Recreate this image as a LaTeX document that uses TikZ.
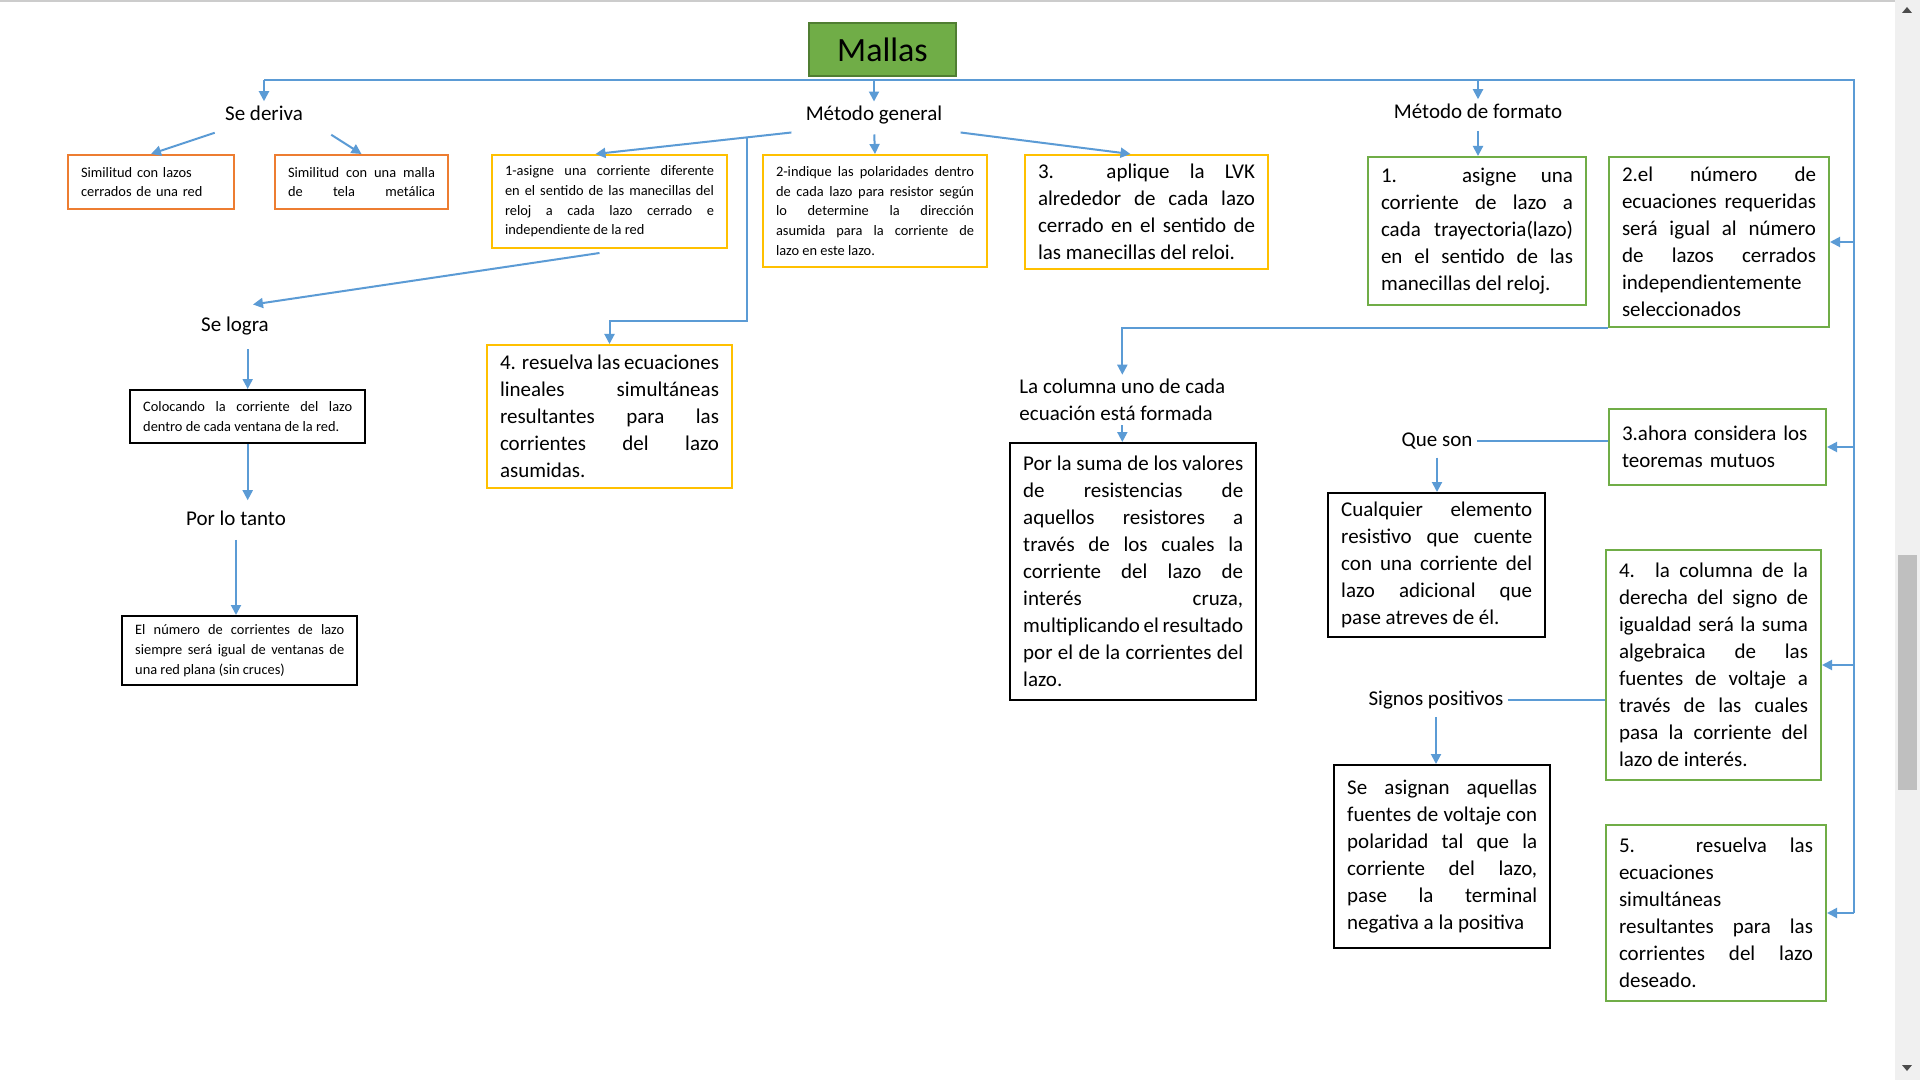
\documentclass[tikz,border=0pt]{standalone}
\usepackage{fontspec}
\setmainfont{Carlito}
\usetikzlibrary{arrows.meta,calc}

\definecolor{lineblue}{HTML}{5B9BD5}
\definecolor{boxorange}{HTML}{ED7D31}
\definecolor{boxgold}{HTML}{FFC000}
\definecolor{boxgreen}{HTML}{70AD47}
\definecolor{darkgreen}{HTML}{507E32}
\tolerance=10000
\hyphenpenalty=10000

\tikzset{
  box/.style={draw=#1, line width=1pt, anchor=north west, inner xsep=6.5pt, inner ysep=3pt, align=justify},
  smalltext/.style={font=\fontsize{7.2}{9.8}\selectfont},
  bodytext/.style={font=\fontsize{10.5}{13.5}\selectfont},
  lbl/.style={font=\fontsize{10.5}{13.5}\selectfont, inner sep=2pt},
  conn/.style={draw=lineblue, line width=1pt},
  arr/.style={conn, -{Triangle[length=5pt,width=5pt]}},
}

\begin{document}
\begin{tikzpicture}[x=0.5pt,y=-0.5pt]
\useasboundingbox (0,0) rectangle (1920,1080);
\fill[white] (0,0) rectangle (1920,1080);
% window frame
\draw[black!20, line width=1pt] (0,1) -- (1895,1);
\fill[black!6] (1895,0) rectangle (1920,1080);
\fill[black!25] (1898,555) rectangle (1917,790);
\fill[black!70] (1902,13) -- (1912,13) -- (1907,7) -- cycle;
\fill[black!70] (1902,1065) -- (1912,1065) -- (1907,1071) -- cycle;
%
\node[fill=boxgreen, draw=darkgreen, line width=1pt, minimum width=73.5pt, minimum height=26.5pt, font=\fontsize{17}{20}\selectfont] (mallas) at (882.5,49.5) {Mallas};
%
\node[lbl] (sederiva) at (264,113) {Se deriva};
\node[lbl] (metgen) at (874,115) {Método general};
\node[lbl] (metform) at (1478,111) {Método de formato};
\node[lbl] (selogra) at (235,326) {Se logra};
\node[lbl] (portanto) at (236,518) {Por lo tanto};
\node[lbl, anchor=west, align=left] (columna) at (1015,400) {La columna uno de cada\\ecuación está formada};
\node[lbl] (queson) at (1437,441) {Que son};
\node[lbl] (signos) at (1436,700) {Signos positivos};
%
\node[box=boxorange, smalltext, align=left, text width=70pt, minimum height=27pt] (a1) at (67,154) {Similitud con lazos cerrados de una red};
\node[box=boxorange, smalltext, text width=73.5pt, minimum height=27pt] (a2) at (274,154) {Similitud con una malla\linebreak de \hfill tela \hfill metálica};
%
\node[box=boxgold, smalltext, text width=104.5pt, minimum height=46.5pt] (y1) at (491,154) {1-asigne una corriente diferente\linebreak en el sentido de las manecillas del\linebreak reloj a cada lazo cerrado e\linebreak independiente de la red};
\node[box=boxgold, smalltext, text width=99pt, minimum height=56pt] (y2) at (762,154) {2-indique las polaridades dentro\linebreak de cada lazo para resistor según\linebreak lo determine la dirección\linebreak asumida para la corriente de\linebreak lazo en este lazo.};
\node[box=boxgold, bodytext, text width=108.5pt, minimum height=57pt] (y3) at (1024,154) {3. aplique la LVK alrededor de cada lazo cerrado en el sentido de las manecillas del reloi.};
\node[box=boxgold, bodytext, text width=109.5pt, minimum height=71.5pt] (y4) at (486,344) {4. resuelva las ecuaciones lineales simultáneas resultantes para las corrientes del lazo asumidas.};
%
\node[box=boxgreen, bodytext, text width=96pt, minimum height=74pt] (g1) at (1367,156) {1. asigne una corriente de lazo a cada trayectoria(lazo) en el sentido de las manecillas del reloj.};
\node[box=boxgreen, bodytext, text width=97pt, minimum height=85pt] (g2) at (1608,156) {2.el número de ecuaciones requeridas será igual al número de lazos cerrados independientemente seleccionados};
\node[box=boxgreen, bodytext, align=left, text width=95.5pt, minimum height=38pt] (g3) at (1608,408) {3.ahora considera los teoremas mutuos};
\node[box=boxgreen, bodytext, text width=94.5pt, minimum height=115pt] (g4) at (1605,549) {4. la columna de la\linebreak derecha del signo de\linebreak igualdad será la suma\linebreak algebraica de las\linebreak fuentes de voltaje a\linebreak través de las cuales\linebreak pasa la corriente del\linebreak lazo de interés.};
\node[box=boxgreen, bodytext, text width=97pt, minimum height=88pt] (g5) at (1605,824) {5. resuelva las\linebreak ecuaciones\newline simultáneas\newline resultantes para las\linebreak corrientes del lazo\linebreak deseado.};
%
\node[box=black, line width=1.2pt, smalltext, text width=104.5pt, minimum height=26.5pt] (b1) at (129,389) {Colocando la corriente del lazo dentro de cada ventana de la red.};
\node[box=black, line width=1.2pt, smalltext, text width=104.5pt, minimum height=34.5pt] (b2) at (121,615) {El número de corrientes de lazo siempre será igual de ventanas de una red plana (sin cruces)};
\node[box=black, line width=1.2pt, bodytext, text width=110pt, minimum height=128.5pt] (b3) at (1009,442) {Por la suma de los valores\linebreak de resistencias de\linebreak aquellos resistores a\linebreak través de los cuales la\linebreak corriente del lazo de\linebreak interés cruza,\linebreak multiplicando el resultado\linebreak por el de la corrientes del\linebreak lazo.};
\node[box=black, line width=1.2pt, bodytext, text width=95.5pt, minimum height=72pt] (b4) at (1327,492) {Cualquier elemento resistivo que cuente con una corriente del lazo adicional que pase atreves de él.};
\node[box=black, line width=1.2pt, bodytext, text width=95pt, minimum height=91.5pt] (b5) at (1333,764) {Se asignan aquellas\linebreak fuentes de voltaje con\linebreak polaridad tal que la\linebreak corriente del lazo,\linebreak pase la terminal\linebreak negativa a la positiva};
%
% main branches
\coordinate (topleft) at (264,80);
\coordinate (topright) at (1854,80);
\draw[conn] (topleft) -- (topright) -- (g5.east -| topright);
\draw[arr] (topleft) -- (sederiva.north);
\draw[arr] (metgen.north |- topleft) -- (metgen.north);
\draw[arr] (metform.north |- topleft) -- (metform.north);
\foreach \n in {g2,g3,g4,g5}
  \draw[arr] (\n.east -| topright) -- (\n.east);
%
\draw[arr] ([xshift=-3pt,yshift=-4pt]sederiva.south west) -- (a1.north);
\draw[arr] ([xshift=12pt,yshift=-5pt]sederiva.south east) -- (a2.north);
%
\coordinate (split) at (747,137.5);
\coordinate (bend) at (747,321);
\draw[arr] ([xshift=-5pt,yshift=-2pt]metgen.south west) -- ([xshift=-7pt]y1.north);
\draw[arr] (split) -- (bend) -| (y4.north);
\draw[arr, shorten <=3pt] (metgen.south) -- (y2.north);
\draw[arr] ([xshift=7pt,yshift=-2pt]metgen.south east) -- ([xshift=-8pt]y3.north);
%
\draw[arr] ([xshift=-5pt,yshift=-2pt]y1.south) -- ([xshift=9pt,yshift=4pt]selogra.north);
\draw[arr, shorten <=5pt] (b1.north |- selogra.south) -- (b1.north);
\draw[arr, shorten >=3pt] (b1.south) -- (b1.south |- portanto.north);
\draw[arr, shorten <=5pt] (portanto.south) -- (portanto.south |- b2.north);
%
\draw[arr, shorten <=4pt] (metform.south) -- (metform.south |- g1.north);
\draw[arr] (g2.south west) -| (columna.north);
\draw[arr] (columna.south) -- (columna.south |- b3.north);
\draw[conn] (queson.east) -- (queson.east -| g3.west);
\draw[arr, shorten <=2pt] (queson.south) -- (queson.south |- b4.north);
\draw[conn] (signos.east) -- (signos.east -| g4.west);
\draw[arr, shorten <=2pt] (signos.south) -- (signos.south |- b5.north);
\end{tikzpicture}
\end{document}
